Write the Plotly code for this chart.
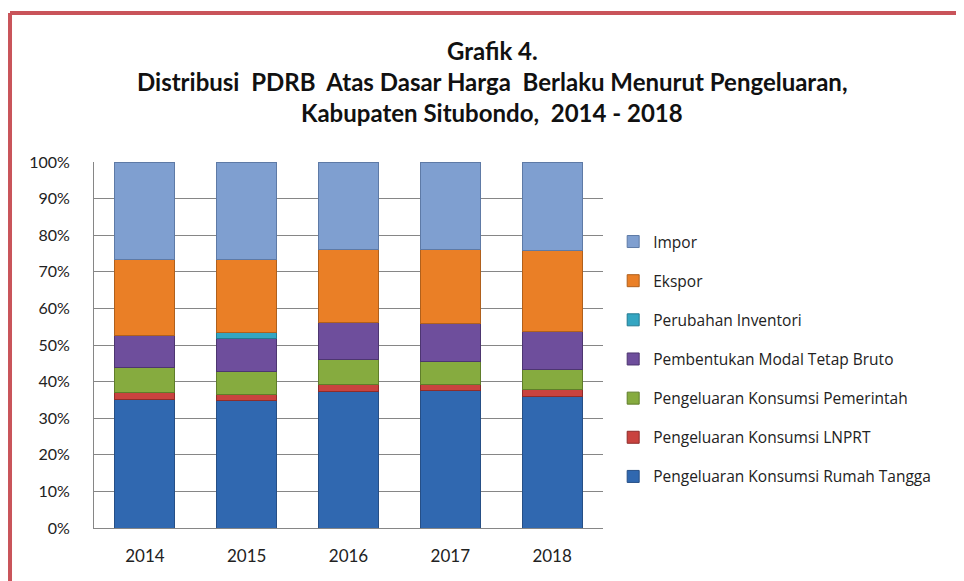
import plotly.graph_objects as go

years = ["2014", "2015", "2016", "2017", "2018"]

rumah_tangga = [35.2, 34.8, 37.3, 37.6, 36.0]
lnprt = [1.7, 1.7, 2.0, 1.7, 1.8]
pemerintah = [6.9, 6.2, 6.7, 6.2, 5.6]
pmtb = [8.8, 9.0, 10.2, 10.3, 10.3]
inventori = [0.0, 1.6, 0.0, 0.0, 0.0]
ekspor = [20.7, 20.0, 19.8, 20.2, 22.1]
impor = [26.7, 26.7, 24.0, 24.0, 24.2]

series = [
    ("Pengeluaran Konsumsi Rumah Tangga", rumah_tangga, "#3068b0", "#264f86"),
    ("Pengeluaran Konsumsi LNPRT", lnprt, "#c9433f", "#8e2c2a"),
    ("Pengeluaran Konsumsi Pemerintah", pemerintah, "#86ab3f", "#5f7d2a"),
    ("Pembentukan Modal Tetap Bruto", pmtb, "#6e4e9c", "#4d3670"),
    ("Perubahan Inventori", inventori, "#34a6c2", "#237a90"),
    ("Ekspor", ekspor, "#ea7f26", "#b0601c"),
    ("Impor", impor, "#7f9fd0", "#5e7aa6"),
]

fig = go.Figure()
for i, (name, vals, col, edge) in enumerate(series):
    fig.add_trace(go.Bar(
        x=years, y=vals, name=name, legendgroup=f"g{i}",
        legendrank=100 - i,
        marker=dict(color=col, line=dict(color=edge, width=1)),
    ))

title_font = dict(family="Lato, sans-serif", size=24, color="#111111")

fig.update_layout(
    barmode="stack",
    bargap=0.41,
    width=956, height=573,
    margin=dict(l=86, r=361, t=154, b=53),
    paper_bgcolor="white",
    plot_bgcolor="white",
    font=dict(family="Lato, Open Sans, sans-serif", color="#222222"),
    showlegend=True,
    legend=dict(
        x=1.02, y=0.828, xanchor="left", yanchor="top",
        traceorder="grouped", tracegroupgap=16,
        font=dict(family="Open Sans, sans-serif", size=15.5, color="#222222"),
        itemwidth=30,
    ),
    xaxis=dict(
        showline=True, linecolor="#868686", linewidth=1,
        ticks="outside", ticklen=13, tickcolor="rgba(0,0,0,0)",
        tickfont=dict(size=17, color="#222222"),
    ),
    yaxis=dict(
        range=[0, 100], dtick=10, ticksuffix="%",
        showgrid=True, gridcolor="#868686", gridwidth=1,
        showline=True, linecolor="#868686", linewidth=1, mirror=False,
        ticks="outside", ticklen=20, tickcolor="rgba(0,0,0,0)",
        tickfont=dict(size=16, color="#222222"),
        zeroline=False,
    ),
    annotations=[
        dict(text="<b>Grafik 4.</b>", x=0.782, y=1.306, xref="paper", yref="paper",
             showarrow=False, xanchor="center", yanchor="middle", font=title_font),
        dict(text="<b>Distribusi  PDRB  Atas Dasar Harga  Berlaku Menurut Pengeluaran,</b>",
             x=0.782, y=1.219, xref="paper", yref="paper",
             showarrow=False, xanchor="center", yanchor="middle", font=title_font),
        dict(text="<b>Kabupaten Situbondo,  2014 - 2018</b>", x=0.782, y=1.134,
             xref="paper", yref="paper",
             showarrow=False, xanchor="center", yanchor="middle", font=title_font),
    ],
    shapes=[
        dict(type="line", xref="paper", yref="paper", x0=-0.165, x1=1.8,
             y0=1.407, y1=1.407, line=dict(color="#c9545a", width=4)),
        dict(type="line", xref="paper", yref="paper", x0=-0.165, x1=-0.165,
             y0=1.407, y1=-0.2, line=dict(color="#c9545a", width=4)),
    ],
)

fig.write_html("out.html")
